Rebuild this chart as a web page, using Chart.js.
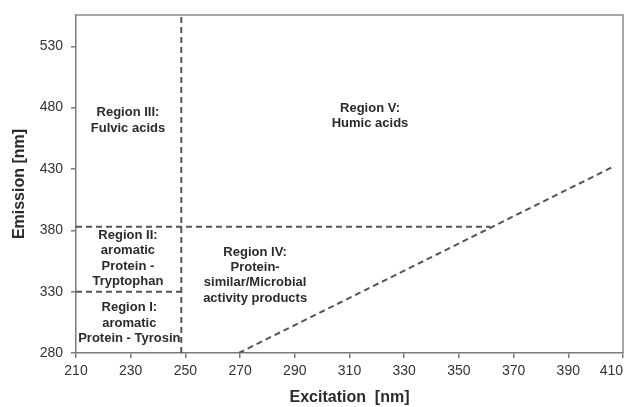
<!DOCTYPE html>
<html>
<head>
<meta charset="utf-8">
<title>EEM fluorescence regions</title>
<script src="https://cdn.jsdelivr.net/npm/chart.js@4.4.1/dist/chart.umd.min.js"></script>
<style>
  html, body { margin: 0; padding: 0; background: #ffffff; }
  #wrap { width: 627px; height: 407px; position: relative; }
</style>
</head>
<body>
<div id="wrap"><canvas id="eem" width="627" height="407"></canvas></div>
<script>
// Axis ranges (nm) and the tick values shown on each axis
const excitationRange = [210, 410];
const emissionRange = [280, 555.5];
const excitationTicks = [210, 230, 250, 270, 290, 310, 330, 350, 370, 390, 410];
const emissionTicks = [280, 330, 380, 430, 480, 530];

// Region boundaries as [excitation, emission] vertices
const boundaryTyrosineTop = [[210, 330], [248.5, 330]];
const boundaryTryptophanTop = [[210, 383], [361.5, 383]];
const boundaryExcitation250 = [[248.5, 280], [248.5, 555.5]];
const boundaryDiagonal = [[269.5, 280], [407, 432.5]];

// Region names and the [excitation, emission] point each text block is centred on
const regionNames = [
  ["Region I:", "aromatic", "Protein - Tyrosin"],
  ["Region II:", "aromatic", "Protein -", "Tryptophan"],
  ["Region III:", "Fulvic acids"],
  ["Region IV:", "Protein-", "similar/Microbial", "activity products"],
  ["Region V:", "Humic acids"]
];
const regionCentres = [[229.5, 304.5], [229, 357], [229, 469.5], [275.5, 343.5], [317.5, 473.5]];

const toPoints = arr => arr.map(([x, y]) => ({ x, y }));

const lineColor = '#555555';
const dashedLine = pts => ({
  data: toPoints(pts),
  showLine: true,
  borderColor: lineColor,
  borderWidth: 2,
  borderDash: [6, 4],
  pointRadius: 0,
  fill: false,
  tension: 0
});

// Frame around the plotting area and the region captions
const frameAndLabels = {
  id: 'frameAndLabels',
  afterDatasetsDraw(chart) {
    const { ctx, chartArea: a, scales: { x, y } } = chart;
    ctx.save();
    ctx.strokeStyle = '#8a8a8a';
    ctx.lineWidth = 1.5;
    ctx.beginPath();
    ctx.moveTo(a.left, a.top);
    ctx.lineTo(a.right, a.top);
    ctx.lineTo(a.right, a.bottom);
    ctx.stroke();

    ctx.fillStyle = '#2b2b2b';
    ctx.font = 'bold 13px "Liberation Sans", Arial, sans-serif';
    ctx.textAlign = 'center';
    ctx.textBaseline = 'middle';
    const lh = 15.3;
    regionNames.forEach((lines, i) => {
      const cx = x.getPixelForValue(regionCentres[i][0]);
      const cy = y.getPixelForValue(regionCentres[i][1]);
      const top = cy - (lines.length - 1) * lh / 2;
      lines.forEach((t, k) => ctx.fillText(t, cx, top + k * lh));
    });
    ctx.restore();
  }
};

const axisColor = '#7a7a7a';
const tickFont = { family: '"Liberation Sans", Arial, sans-serif', size: 14 };
const titleFont = { family: '"Liberation Sans", Arial, sans-serif', size: 16, weight: 'bold' };
const useTicks = values => scale => { scale.ticks = values.map(v => ({ value: v })); };

new Chart(document.getElementById('eem'), {
  type: 'scatter',
  data: {
    datasets: [
      dashedLine(boundaryTyrosineTop),
      dashedLine(boundaryTryptophanTop),
      dashedLine(boundaryExcitation250),
      dashedLine(boundaryDiagonal)
    ]
  },
  options: {
    responsive: false,
    animation: false,
    layout: { padding: { top: 15, right: 4, left: 10, bottom: 0 } },
    plugins: { legend: { display: false }, tooltip: { enabled: false } },
    scales: {
      x: {
        type: 'linear',
        min: excitationRange[0],
        max: excitationRange[1],
        afterBuildTicks: useTicks(excitationTicks),
        afterFit: s => { s.height = 54; s.paddingLeft = 0; s.paddingRight = 0; },
        ticks: {
          color: '#333', font: tickFont, padding: 5, maxRotation: 0, autoSkip: false,
          // the last label sits flush left of the right-hand edge
          callback: v => v === excitationRange[1] ? v + '\u2007\u2007\u2007' : String(v)
        },
        grid: { drawOnChartArea: false, drawTicks: true, tickLength: 5, color: axisColor, lineWidth: 1.5 },
        border: { display: true, color: axisColor, width: 1.5 },
        title: { display: true, text: 'Excitation  [nm]', color: '#2b2b2b', font: titleFont, padding: { top: 4, bottom: 0 } }
      },
      y: {
        type: 'linear',
        min: emissionRange[0],
        max: emissionRange[1],
        afterBuildTicks: useTicks(emissionTicks),
        afterFit: s => { s.width = 66; s.paddingTop = 0; s.paddingBottom = 0; },
        ticks: { color: '#333', font: tickFont, padding: 8, autoSkip: false },
        grid: { drawOnChartArea: false, drawTicks: true, tickLength: 5, color: axisColor, lineWidth: 1.5 },
        border: { display: true, color: axisColor, width: 1.5 },
        title: { display: true, text: 'Emission [nm]', color: '#2b2b2b', font: titleFont, padding: { top: 0, bottom: 8 } }
      }
    }
  },
  plugins: [frameAndLabels]
});
</script>
</body>
</html>
